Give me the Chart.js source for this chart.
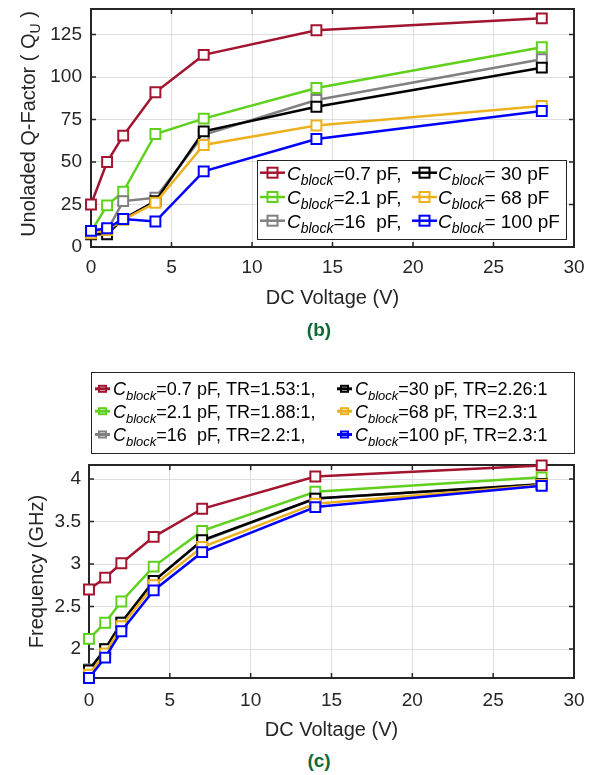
<!DOCTYPE html>
<html>
<head>
<meta charset="utf-8">
<script src="https://cdn.jsdelivr.net/npm/chart.js@4.4.0/dist/chart.umd.min.js"></script>
<style>
body { margin: 0; background: #fff; width: 596px; height: 775px; position: relative; overflow: hidden; font-family: "Liberation Sans", Arial, sans-serif; }
#chartQ { position: absolute; left: 0; top: 0; }
#chartF { position: absolute; left: 0; top: 340px; }
.tag { position: absolute; transform: translate(-50%, -50%); font-weight: bold; font-size: 19px; color: #0b6b35; }
</style>
</head>
<body>
<canvas id="chartQ" width="596" height="317"></canvas>
<canvas id="chartF" width="596" height="410"></canvas>
<div class="tag" style="left:319px;top:330px">(b)</div>
<div class="tag" style="left:319px;top:761px">(c)</div>
<script>
// DC bias points (V)
const voltage = [0, 1, 2, 4, 7, 14, 28];
const capNames = ['0.7 pF', '2.1 pF', '16 pF', '30 pF', '68 pF', '100 pF'];
const lineColors = ['#a2142f', '#5fd11d', '#808080', '#000000', '#edb120', '#0000ff'];

// unloaded Q
const q07 = [25, 50, 65.5, 91, 113, 127.5, 134.5];
const q21 = [9, 24.5, 32.5, 66.5, 75.5, 93.5, 117.5];
const q16 = [8, 9.5, 27, 29, 66, 86.5, 110.5];
const q30 = [7.5, 7.5, 16.5, 27, 68, 82.5, 105.5];
const q68 = [8, 10, 16, 26, 60, 71.5, 83];
const q100 = [9.5, 11, 16.5, 15, 44.5, 63.5, 80];

// frequency (GHz)
const f07 = [2.7, 2.84, 3.01, 3.32, 3.65, 4.03, 4.16];
const f21 = [2.12, 2.31, 2.56, 2.97, 3.39, 3.85, 4.02];
const f16 = [1.76, 2.0, 2.31, 2.8, 3.27, 3.77, 3.94];
const f30 = [1.75, 2.0, 2.31, 2.8, 3.28, 3.77, 3.94];
const f68 = [1.7, 1.95, 2.27, 2.75, 3.2, 3.71, 3.93];
const f100 = [1.66, 1.9, 2.21, 2.69, 3.14, 3.67, 3.92];

// legend texts (after the C_block symbol)
const legendQ = ['=0.7 pF,', '=2.1 pF,', '=16  pF,', '= 30 pF', '= 68 pF', '= 100 pF'];
const legendF = ['=0.7 pF, TR=1.53:1,', '=2.1 pF, TR=1.88:1,', '=16  pF, TR=2.2:1,',
                 '=30 pF, TR=2.26:1', '=68 pF, TR=2.3:1', '=100 pF, TR=2.3:1'];

const FONT = '"Liberation Sans", Arial, sans-serif';
const INK = '#262626';
Chart.defaults.font.family = FONT;
Chart.defaults.color = INK;

function makeSets(rows) {
    return rows.map(function(vals, i) {
        return {
            label: capNames[i],
            data: voltage.map(function(v, k) { return {x: v, y: vals[k]}; }),
            borderColor: lineColors[i],
            backgroundColor: '#fff',
            pointBackgroundColor: '#fff',
            borderWidth: 2.5,
            pointStyle: 'rect',
            pointRadius: 7,
            pointHoverRadius: 7,
            pointBorderWidth: 2,
            tension: 0,
            clip: false,
            order: rows.length - i
        };
    });
}

function xScale(h, tickPad, titlePad) {
    return {
        type: 'linear', min: 0, max: 30,
        ticks: {stepSize: 5, padding: tickPad, font: {size: 19}, color: INK, maxRotation: 0},
        grid: {color: '#dedede', lineWidth: 1, drawTicks: false},
        border: {display: false},
        title: {display: true, text: 'DC Voltage (V)', font: {size: 20}, color: INK, padding: {top: 0, bottom: titlePad}},
        afterFit: function(s) { s.height = h; s.paddingLeft = 0; s.paddingRight = 0; }
    };
}

// box round the plot with inward ticks
const frame = {
    id: 'frame',
    beforeDatasetsDraw: function(chart) {
        const ctx = chart.ctx, a = chart.chartArea;
        const xs = chart.scales.x, ys = chart.scales.y;
        ctx.save();
        ctx.strokeStyle = INK;
        ctx.lineWidth = 1.5;
        ctx.beginPath();
        xs.ticks.forEach(function(t) {
            const px = xs.getPixelForValue(t.value);
            ctx.moveTo(px, a.bottom); ctx.lineTo(px, a.bottom - 5);
            ctx.moveTo(px, a.top); ctx.lineTo(px, a.top + 5);
        });
        ys.ticks.forEach(function(t) {
            const py = ys.getPixelForValue(t.value);
            ctx.moveTo(a.left, py); ctx.lineTo(a.left + 5, py);
            ctx.moveTo(a.right, py); ctx.lineTo(a.right - 5, py);
        });
        ctx.stroke();
        ctx.lineWidth = 2;
        ctx.strokeRect(a.left, a.top, a.right - a.left, a.bottom - a.top);
        ctx.restore();
    }
};

function drawLegend(ctx, box, texts, o) {
    ctx.save();
    ctx.fillStyle = '#fff';
    ctx.fillRect(box.x, box.y, box.w, box.h);
    ctx.strokeStyle = INK;
    ctx.lineWidth = 1;
    ctx.strokeRect(box.x + 0.5, box.y + 0.5, box.w, box.h);
    texts.forEach(function(t, i) {
        const col = Math.floor(i / 3), row = i % 3;
        const mx = o.markX[col], cy = o.rowY[row];
        ctx.strokeStyle = lineColors[i];
        ctx.lineWidth = o.lineW;
        ctx.beginPath(); ctx.moveTo(mx, cy); ctx.lineTo(mx + o.lineLen, cy); ctx.stroke();
        ctx.lineWidth = 2;
        ctx.strokeRect(mx + o.lineLen / 2 - o.sq / 2, cy - o.sqH / 2, o.sq, o.sqH);
        let x = o.textX[col];
        const base = cy + o.cap / 2;
        ctx.fillStyle = '#000';
        ctx.textAlign = 'left';
        ctx.textBaseline = 'alphabetic';
        ctx.font = 'italic ' + o.size + 'px ' + FONT;
        ctx.fillText('C', x, base); x += ctx.measureText('C').width;
        ctx.font = 'italic ' + o.sub + 'px ' + FONT;
        ctx.fillText('block', x, base + o.drop); x += ctx.measureText('block').width;
        ctx.font = o.size + 'px ' + FONT;
        ctx.fillText(t, x, base);
    });
    ctx.restore();
}

const legendTop = {
    id: 'legendTop',
    afterDraw: function(chart) {
        drawLegend(chart.ctx, {x: 257, y: 160, w: 309, h: 79}, legendQ, {
            markX: [260, 412], textX: [287, 438], rowY: [172.7, 197, 220.7],
            lineLen: 25, lineW: 2.5, sq: 10, sqH: 10, size: 19, sub: 14, cap: 13.6, drop: 5.5
        });
        // y title with subscript
        const ctx = chart.ctx;
        ctx.save();
        ctx.translate(35, 124);
        ctx.rotate(-Math.PI / 2);
        ctx.fillStyle = INK;
        ctx.textBaseline = 'alphabetic';
        ctx.textAlign = 'left';
        const p1 = 'Unoladed Q-Factor ( Q', p2 = 'U', p3 = ' )';
        ctx.font = '20px ' + FONT;
        const w1 = ctx.measureText(p1).width, w3 = ctx.measureText(p3).width;
        ctx.font = '14px ' + FONT;
        const w2 = ctx.measureText(p2).width;
        let x = -(w1 + w2 + w3) / 2;
        ctx.font = '20px ' + FONT;
        ctx.fillText(p1, x, 0); x += w1;
        ctx.font = '14px ' + FONT;
        ctx.fillText(p2, x, 4.5); x += w2;
        ctx.font = '20px ' + FONT;
        ctx.fillText(p3, x, 0);
        ctx.restore();
    }
};

const legendBottom = {
    id: 'legendBottom',
    afterDraw: function(chart) {
        drawLegend(chart.ctx, {x: 91, y: 32, w: 483, h: 81}, legendF, {
            markX: [95, 337], textX: [113, 355], rowY: [48.8, 71.2, 94.5],
            lineLen: 15, lineW: 3, sq: 7, sqH: 6, size: 18, sub: 13, cap: 12.9, drop: 5
        });
    }
};

new Chart(document.getElementById('chartQ').getContext('2d'), {
    type: 'line',
    data: {datasets: makeSets([q07, q21, q16, q30, q68, q100])},
    options: {
        responsive: false,
        animation: false,
        layout: {padding: {left: 0, right: 22, top: 6, bottom: 0}},
        plugins: {legend: {display: false}, tooltip: {enabled: false}},
        scales: {
            x: xScale(70, 9, 6.7),
            y: {
                min: 0, max: 140,
                ticks: {stepSize: 25, includeBounds: false, padding: 9, font: {size: 19}, color: INK},
                grid: {color: '#dedede', lineWidth: 1, drawTicks: false},
                border: {display: false},
                afterFit: function(s) { s.width = 91; s.paddingTop = 0; s.paddingBottom = 0; }
            }
        }
    },
    plugins: [frame, legendTop]
});

new Chart(document.getElementById('chartF').getContext('2d'), {
    type: 'line',
    data: {datasets: makeSets([f07, f21, f16, f30, f68, f100])},
    options: {
        responsive: false,
        animation: false,
        layout: {padding: {left: 0, right: 22, top: 125, bottom: 0}},
        plugins: {legend: {display: false}, tooltip: {enabled: false}},
        scales: {
            x: xScale(72, 11.3, 8),
            y: {
                min: 1.66, max: 4.165,
                ticks: {stepSize: 0.5, includeBounds: false, padding: 8, font: {size: 19}, color: INK,
                        callback: function(v) { return String(v); }},
                grid: {color: '#dedede', lineWidth: 1, drawTicks: false},
                border: {display: false},
                title: {display: true, text: 'Frequency (GHz)', font: {size: 20}, color: INK, padding: {top: 25.7, bottom: 0}},
                afterFit: function(s) { s.width = 89; s.paddingTop = 0; s.paddingBottom = 0; }
            }
        }
    },
    plugins: [frame, legendBottom]
});
</script>
</body>
</html>
